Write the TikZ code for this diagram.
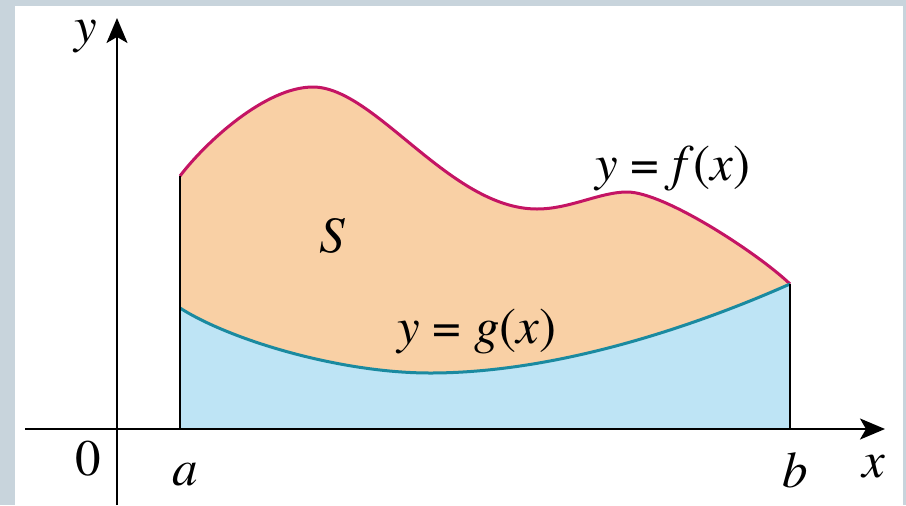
\documentclass[tikz,border=0pt]{standalone}
\usepackage{fontspec}
\setmainfont{texgyretermes}[Extension=.otf, UprightFont=*-regular, ItalicFont=*-italic, BoldFont=*-bold]
\usetikzlibrary{arrows.meta}
\definecolor{framegray}{RGB}{200,212,220}
\definecolor{areaorange}{RGB}{249,208,165}
\definecolor{areablue}{RGB}{190,228,245}
\definecolor{fcol}{RGB}{196,20,100}
\definecolor{gcol}{RGB}{26,138,160}
% upper and lower boundary of S, in pixel coordinates
\newcommand{\fcurve}{(180,176) .. controls (205,143) and (265,87) .. (313,87)
  .. controls (375,87) and (450,209) .. (537,209)
  .. controls (570,209) and (600,192) .. (627,192)
  .. controls (665,192) and (760,255) .. (790,284)}
\newcommand{\gcurve}{(180,308) .. controls (230,340) and (340,373) .. (430,373)
  .. controls (560,373) and (700,324) .. (790,284)}
\begin{document}
\begin{tikzpicture}[
      x=0.5pt, y=-0.5pt,
      lbl/.style  = {anchor=base, inner sep=0pt, font=\fontsize{25.5}{30}\selectfont},
      axis/.style = {line width=1pt, -{Stealth[length=12.5pt, width=10.5pt, inset=3pt]}},
      edge/.style = {line width=1pt},
      curve/.style = {line width=1.5pt}]
    % frame
    \fill[framegray] (0,0) rectangle (906,505);
    \fill[white] (15,6) rectangle (903,505);
    \useasboundingbox (0,0) rectangle (906,505);
    % the two regions between the curves and the x-axis
    \fill[areaorange] \fcurve -- (790,429) -- (180,429) -- cycle;
    \fill[areablue] \gcurve -- (790,429) -- (180,429) -- cycle;
    \draw[curve, fcol] \fcurve;
    \draw[curve, gcol] \gcurve;
    % axes
    \coordinate (o)  at (117,429);
    \coordinate (xs) at (25,429);
    \coordinate (xe) at (885,429);
    \coordinate (ys) at (117,505);
    \coordinate (ye) at (117,18);
    \coordinate (fa) at (180,176);
    \coordinate (aa) at (180,429);
    \coordinate (fb) at (790,284);
    \coordinate (bb) at (790,429);
    \draw[edge] (fa) -- (aa);
    \draw[edge] (fb) -- (bb);
    \draw[axis] (xs) -- (xe);
    \draw[axis] (ys) -- (ye);
    % labels
    \node[lbl] (ylab) at (86,42)   {\textit{y}};
    \node[lbl] (xlab) at (874,477) {\textit{x}};
    \node[lbl] (zero) at (88,475)  {0};
    \node[lbl] (alab) at (185,485) {\textit{a}};
    \node[lbl] (blab) at (795,487) {\textit{b}};
    \node[lbl] (slab) at (332,252) {\textit{S}};
    \node[lbl] (flab) at (673,180) {\textit{y} = \textit{f}(\textit{x})};
    \node[lbl] (glab) at (477,343) {\textit{y} = \textit{g}(\textit{x})};
  \end{tikzpicture}
\end{document}
